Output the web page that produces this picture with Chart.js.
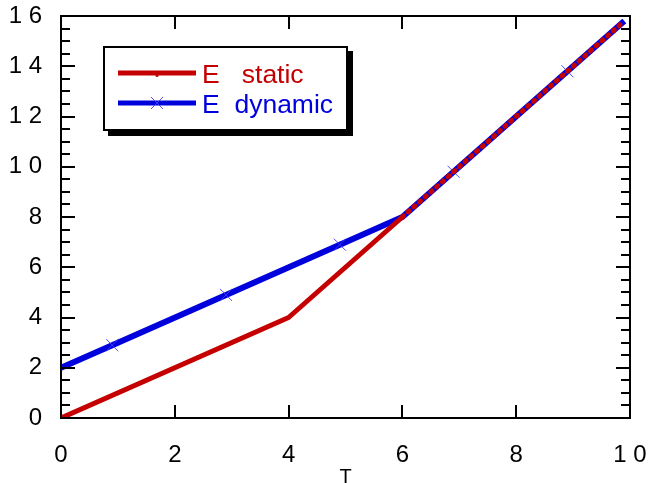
<!DOCTYPE html>
<html>
<head>
<meta charset="utf-8">
<title>E static / E dynamic</title>
<script src="https://cdn.jsdelivr.net/npm/chart.js@4/dist/chart.umd.min.js"></script>
<style>
    body { margin: 0; background: #fff; }
    #wrap { position: relative; width: 649px; height: 483px; }
</style>
</head>
<body>
<div id="wrap"><canvas id="eChart" width="649" height="483"></canvas></div>
<script>
// ===============================
//  DATA
// ===============================
const T_STATIC = [0, 4, 6, 9.9];
const E_STATIC = [0, 4, 8, 15.8];

const T_DYNAMIC = [0, 0.9, 2.9, 4.9, 6, 6.9, 8.9, 9.9];
const E_DYNAMIC = [2, 2.9, 4.9, 6.9, 8, 9.8, 13.8, 15.8];
const DYNAMIC_MARKER_T = [0.9, 2.9, 4.9, 6.9, 8.9];

const SERIES_LABELS = ["E   static", "E  dynamic"];
const X_TICKS = [0, 2, 4, 6, 8, 10];
const Y_TICKS = [0, 2, 4, 6, 8, 10, 12, 14, 16];
const OVERLAP_FROM_T = 6;

// ===============================
//  STYLE
// ===============================
const RED = "#c40000";
const BLUE = "#0000dc";
const MARKER = "rgba(60,60,255,0.9)";
const FONT = "'Liberation Sans', Arial, sans-serif";

function spaced(v) {
    return String(v).split("").join(" ");
}

function toPoints(xs, ys) {
    return xs.map((x, i) => ({ x, y: ys[i] }));
}

// drop the label overflow padding so the plot box sits where the layout says
function fixScale(s, key, size) {
    s[key] = size;
    s.paddingLeft = s.paddingRight = s.paddingTop = s.paddingBottom = 0;
}

// ===============================
//  FRAME + INWARD TICKS
// ===============================
const frameTicks = {
    id: "frameTicks",
    afterDraw(chart) {
        const { ctx, chartArea: a, scales } = chart;
        ctx.save();
        ctx.strokeStyle = "#000";
        ctx.lineWidth = 2;
        ctx.strokeRect(a.left, a.top, a.right - a.left, a.bottom - a.top);

        ctx.beginPath();
        for (let v = 0; v <= 16; v += 0.5) {
            const y = Math.round(scales.y.getPixelForValue(v));
            const len = v % 2 === 0 ? 14 : 9;
            ctx.moveTo(a.left, y);
            ctx.lineTo(a.left + len, y);
            ctx.moveTo(a.right, y);
            ctx.lineTo(a.right - len, y);
        }
        X_TICKS.slice(1, -1).forEach(v => {
            const x = Math.round(scales.x.getPixelForValue(v));
            ctx.moveTo(x, a.bottom);
            ctx.lineTo(x, a.bottom - 13);
            ctx.moveTo(x, a.top);
            ctx.lineTo(x, a.top + 13);
        });
        ctx.stroke();
        ctx.restore();
    }
};

// ===============================
//  LEGEND BOX (with drop shadow)
// ===============================
const legendBox = {
    id: "legendBox",
    afterDraw(chart) {
        const ctx = chart.ctx;
        ctx.save();

        // shadow + box
        ctx.fillStyle = "#000";
        ctx.fillRect(108, 51, 245, 85);
        ctx.fillStyle = "#fff";
        ctx.fillRect(103, 46, 245, 85);
        ctx.strokeStyle = "#000";
        ctx.lineWidth = 2;
        ctx.strokeRect(104, 47, 243, 83);

        // sample lines
        ctx.lineWidth = 5;
        ctx.strokeStyle = RED;
        ctx.beginPath();
        ctx.moveTo(118, 73);
        ctx.lineTo(196, 73);
        ctx.stroke();
        ctx.fillStyle = RED;
        ctx.beginPath();
        ctx.arc(157, 75.5, 1.5, 0, Math.PI * 2);
        ctx.fill();

        ctx.strokeStyle = BLUE;
        ctx.beginPath();
        ctx.moveTo(118, 103);
        ctx.lineTo(196, 103);
        ctx.stroke();
        ctx.strokeStyle = MARKER;
        ctx.lineWidth = 1;
        ctx.beginPath();
        ctx.moveTo(151, 97);
        ctx.lineTo(163, 109);
        ctx.moveTo(151, 109);
        ctx.lineTo(163, 97);
        ctx.stroke();

        // labels
        ctx.font = "26.5px " + FONT;
        ctx.textAlign = "left";
        ctx.textBaseline = "alphabetic";
        ctx.fillStyle = RED;
        ctx.fillText(SERIES_LABELS[0], 202, 83);
        ctx.fillStyle = BLUE;
        ctx.fillText(SERIES_LABELS[1], 202, 113);
        ctx.restore();
    }
};

// ===============================
//  BUILD CHART
// ===============================
function buildChart() {
    const ctx = document.getElementById("eChart");

    new Chart(ctx, {
        type: "line",
        data: {
            datasets: [
                {
                    label: SERIES_LABELS[0],
                    data: toPoints(T_STATIC, E_STATIC),
                    borderColor: RED,
                    borderWidth: 5,
                    borderCapStyle: "round",
                    borderJoinStyle: "round",
                    pointRadius: 0,
                    tension: 0,
                    segment: {
                        borderDash: c => c.p0.parsed.x >= OVERLAP_FROM_T ? [1.5, 6.1] : undefined
                    }
                },
                {
                    label: SERIES_LABELS[1],
                    data: toPoints(T_DYNAMIC, E_DYNAMIC),
                    borderColor: BLUE,
                    borderWidth: 6,
                    borderJoinStyle: "round",
                    pointStyle: "crossRot",
                    pointRadius: T_DYNAMIC.map(t => DYNAMIC_MARKER_T.includes(t) ? 8.5 : 0),
                    pointBorderWidth: 1,
                    pointBorderColor: MARKER,
                    tension: 0
                }
            ]
        },
        options: {
            responsive: false,
            animation: false,
            events: [],
            layout: { padding: { left: 0, right: 19, top: 16, bottom: 0 } },
            plugins: {
                legend: { display: false },
                tooltip: { enabled: false }
            },
            scales: {
                x: {
                    type: "linear",
                    min: 0,
                    max: 10,
                    afterFit: s => fixScale(s, "height", 65),
                    afterBuildTicks: s => { s.ticks = X_TICKS.map(v => ({ value: v })); },
                    grid: { display: false, drawTicks: false },
                    border: { display: false },
                    ticks: {
                        color: "#000",
                        padding: 25,
                        maxRotation: 0,
                        font: { family: FONT, size: 24, lineHeight: 1 },
                        callback: v => spaced(v)
                    },
                    title: {
                        display: true,
                        text: "T",
                        color: "#000",
                        padding: { top: 0, bottom: -4 },
                        font: { family: FONT, size: 20, lineHeight: 1 }
                    }
                },
                y: {
                    min: 0,
                    max: 16,
                    afterFit: s => fixScale(s, "width", 61),
                    afterBuildTicks: s => { s.ticks = Y_TICKS.map(v => ({ value: v })); },
                    grid: { display: false, drawTicks: false },
                    border: { display: false },
                    ticks: {
                        color: "#000",
                        padding: 19,
                        font: { family: FONT, size: 24, lineHeight: 1 },
                        callback: v => spaced(v)
                    }
                }
            }
        },
        plugins: [frameTicks, legendBox]
    });
}

buildChart();
</script>
</body>
</html>
